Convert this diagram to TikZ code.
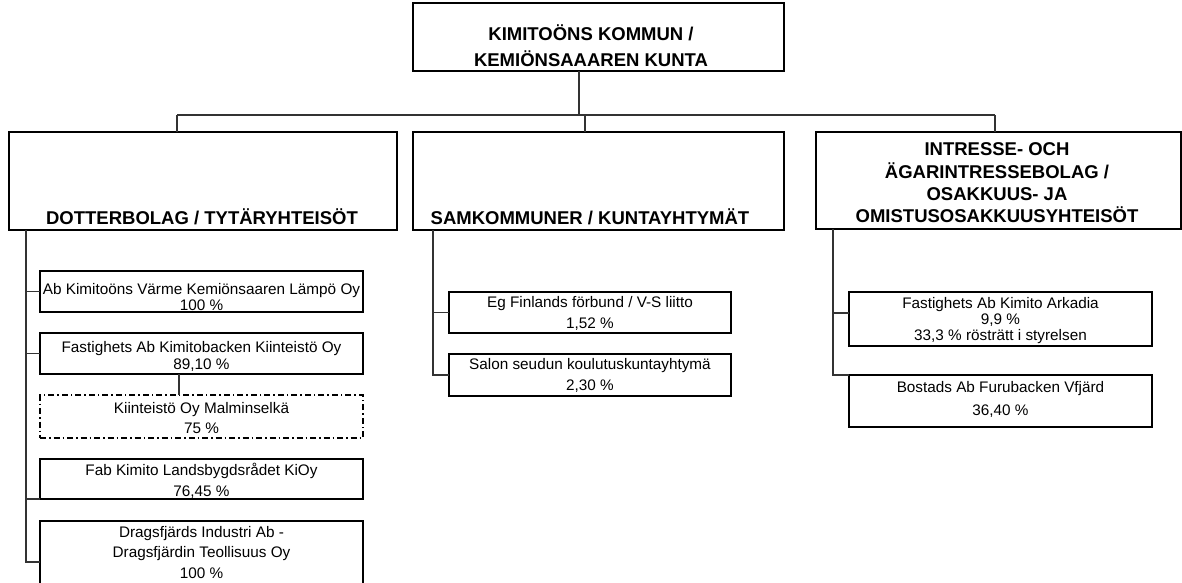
\documentclass[tikz,border=0pt]{standalone}
\usepackage{fontspec}
\setmainfont{Liberation Sans}
\begin{document}
\begin{tikzpicture}[x=1pt,y=-1pt,
  box/.style={draw=black, line width=1.4pt, inner sep=0pt, outer sep=0pt},
  dashbox/.style={box, dash pattern=on 6pt off 3pt on 1.5pt off 3pt},
  conn/.style={draw=black!80, line width=1.1pt},
  ctext/.style={align=center, inner sep=0pt, font=\fontsize{15.3}{#1}\selectfont},
  ctext/.default=17,
  htext/.style={align=center, inner sep=0pt, font=\fontsize{18.5}{#1}\selectfont\bfseries},
  htext/.default=22.3]
\useasboundingbox (0,0) rectangle (1182,582);

% header boxes
\node[box, minimum width=371pt, minimum height=68pt] (top) at (598.5,37) {};
\node[htext=26] (toptxt) at (591,45.5) {KIMITOÖNS KOMMUN /\\KEMIÖNSAAAREN KUNTA};

\node[box, minimum width=388pt, minimum height=98pt] (lh) at (203,181) {};
\node[htext] (lhtxt) at (202,217) {DOTTERBOLAG / TYTÄRYHTEISÖT};

\node[box, minimum width=371pt, minimum height=98pt] (mh) at (598.5,181) {};
\node[htext] (mhtxt) at (590,217) {SAMKOMMUNER / KUNTAYHTYMÄT};

\node[box, minimum width=365pt, minimum height=97pt] (rh) at (998.5,180.5) {};
\node[htext] (rhtxt) at (997,183) {INTRESSE- OCH\\ÄGARINTRESSEBOLAG /\\OSAKKUUS- JA\\OMISTUSOSAKKUUSYHTEISÖT};

% left children
\node[box, minimum width=323pt, minimum height=41pt] (L1) at (201.5,291.5) {};
\node[ctext=16.5] (L1t) at (201.5,297) {Ab Kimitoöns Värme Kemiönsaaren Lämpö Oy\\100 \%};
\node[box, minimum width=323pt, minimum height=41pt] (L2) at (201.5,353.5) {};
\node[ctext=17] (L2t) at (201.5,356.5) {Fastighets Ab Kimitobacken Kiinteistö Oy\\89,10 \%};
\node[dashbox, minimum width=323pt, minimum height=43pt] (L3) at (201.5,416.5) {};
\node[ctext=20] (L3t) at (201.5,418) {Kiinteistö Oy Malminselkä\\75 \%};
\node[box, minimum width=323pt, minimum height=40pt] (L4) at (201.5,479) {};
\node[ctext=21] (L4t) at (201.5,480.5) {Fab Kimito Landsbygdsrådet KiOy\\76,45 \%};
\node[box, minimum width=323pt, minimum height=71pt] (L5) at (201.5,556.5) {};
\node[ctext=20.5] (L5t) at (201.5,552.5) {Dragsfjärds Industri Ab -\\Dragsfjärdin Teollisuus Oy\\100 \%};

% middle children
\node[box, minimum width=282pt, minimum height=41pt] (M1) at (590,312.5) {};
\node[ctext=21] (M1t) at (590,313.5) {Eg Finlands förbund / V-S liitto\\1,52 \%};
\node[box, minimum width=282pt, minimum height=42pt] (M2) at (590,375) {};
\node[ctext=21] (M2t) at (590,375.5) {Salon seudun koulutuskuntayhtymä\\2,30 \%};

% right children
\node[box, minimum width=303pt, minimum height=54pt] (R1) at (1000.5,319) {};
\node[ctext=16] (R1t) at (1000.5,321) {Fastighets Ab Kimito Arkadia\\9,9 \%\\33,3 \% rösträtt i styrelsen};
\node[box, minimum width=303pt, minimum height=52pt] (R2) at (1000.5,401) {};
\node[ctext=23] (R2t) at (1000.5,399.5) {Bostads Ab Furubacken Vfjärd\\36,40 \%};

% bus
\coordinate (bus) at (579,115);
\coordinate (busL) at (177,115);
\coordinate (busM) at (585,115);
\coordinate (busR) at (995,115);
\draw[conn] (top.south -| bus) -- (bus);
\draw[conn] (busL) -- (busR);
\draw[conn] (busL) -- (busL |- lh.north);
\draw[conn] (busM) -- (busM |- mh.north);
\draw[conn] (busR) -- (busR |- rh.north);

% left spine
\draw[conn] (lh.south -| 26,0) -- (26,562) -- (L5.west |- 0,562);
\draw[conn] (L1.west -| 26,0) -- (L1.west);
\draw[conn] (L2.west -| 26,0) -- (L2.west);
\draw[conn] (L4.south west -| 26,0) -- (L4.south west);
\draw[conn] (L2.south -| 179,0) -- (L3.north -| 179,0);

% middle spine
\draw[conn] (mh.south -| 433,0) -- (M2.west -| 433,0) -- (M2.west);
\draw[conn] (M1.west -| 433,0) -- (M1.west);

% right spine
\draw[conn] (rh.south -| 833,0) -- (R2.north west -| 833,0) -- (R2.north west);
\draw[conn] (833,313) -- (R1.west |- 0,313);
\end{tikzpicture}
\end{document}
